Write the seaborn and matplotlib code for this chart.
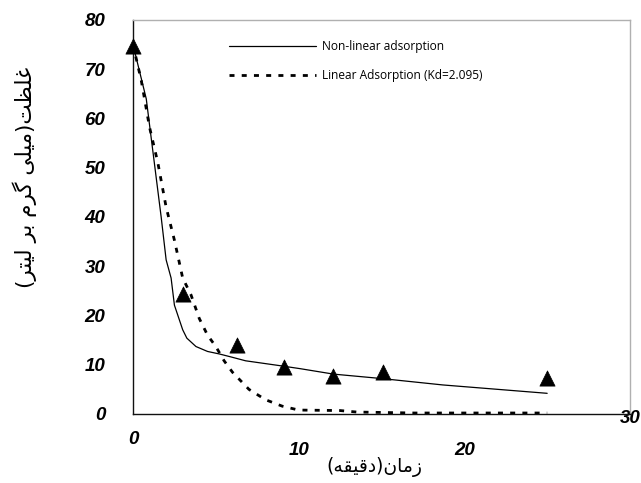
import matplotlib
matplotlib.use("Agg")
import matplotlib.pyplot as plt
import matplotlib.transforms as mtransforms
import seaborn as sns
import pandas as pd

# Measured concentrations (triangles)
obs_time = [0, 3.0, 6.3, 9.1, 12.1, 15.1, 25.0]
obs_conc = [74.8, 24.4, 14.1, 9.5, 7.7, 8.5, 7.3]

# Non-linear adsorption model
nl_time = [0, 0.8, 1.7, 2.0, 2.3, 2.5, 2.8, 3.0, 3.25, 3.8, 4.5, 5.2, 5.9, 6.8, 8.9, 10.1, 12.1, 15.0, 18.7, 25.0]
nl_conc = [75, 64, 40, 31.3, 27.6, 22.1, 19.1, 17.1, 15.4, 13.7, 12.7, 12.2, 11.6, 10.8, 9.8, 9.2, 8.1, 7.2, 5.9, 4.2]

# Linear adsorption model (Kd = 2.095)
lin_time = [0, 0.5, 1.0, 1.5, 2.0, 2.5, 3.0, 3.5, 4.0, 4.5, 5.0, 5.5, 6.0, 7.0, 8.0, 9.0, 10.0, 12.5, 13.5, 17.0, 25.0]
lin_conc = [75, 67.7, 58.2, 51.0, 42.0, 35.3, 27.6, 24.2, 19.4, 16.0, 13.7, 10.8, 8.5, 5.0, 2.9, 1.6, 0.8, 0.7, 0.4, 0.2, 0.2]

series_labels = ["Non-linear adsorption", "Linear Adsorption (Kd=2.095)"]
x_ticks = [0, 10, 20, 30]
y_ticks = [0, 10, 20, 30, 40, 50, 60, 70, 80]
x_title = "زمان(دقیقه)"
y_title = "غلظت(میلی گرم بر لیتر)"

# Contextual glyph forms: (isolated, final, initial, medial)
FORMS = {
    "غ": ("\uFECD", "\uFECE", "\uFECF", "\uFED0"),
    "ل": ("\uFEDD", "\uFEDE", "\uFEDF", "\uFEE0"),
    "ظ": ("\uFEC5", "\uFEC6", "\uFEC7", "\uFEC8"),
    "ت": ("\uFE95", "\uFE96", "\uFE97", "\uFE98"),
    "م": ("\uFEE1", "\uFEE2", "\uFEE3", "\uFEE4"),
    "ی": ("\uFBFC", "\uFBFD", "\uFBFE", "\uFBFF"),
    "گ": ("\uFB92", "\uFB93", "\uFB94", "\uFB95"),
    "ب": ("\uFE8F", "\uFE90", "\uFE91", "\uFE92"),
    "ن": ("\uFEE5", "\uFEE6", "\uFEE7", "\uFEE8"),
    "ق": ("\uFED5", "\uFED6", "\uFED7", "\uFED8"),
    "ه": ("\uFEE9", "\uFEEA", "\uFEEB", "\uFEEC"),
    "ر": ("\uFEAD", "\uFEAE", None, None),
    "ز": ("\uFEAF", "\uFEB0", None, None),
    "ا": ("\uFE8D", "\uFE8E", None, None),
    "د": ("\uFEA9", "\uFEAA", None, None),
}


def shape_rtl(text):
    """Join Persian letters and lay the string out right-to-left."""
    out = []
    for i, ch in enumerate(text):
        forms = FORMS.get(ch)
        if forms is None:
            out.append(ch)
            continue
        prev = text[i - 1] if i > 0 else None
        nxt = text[i + 1] if i + 1 < len(text) else None
        joins_prev = prev in FORMS and FORMS[prev][2] is not None
        joins_next = forms[2] is not None and nxt in FORMS
        iso, fin, ini, med = forms
        if joins_prev and joins_next:
            out.append(med)
        elif joins_prev:
            out.append(fin)
        elif joins_next:
            out.append(ini)
        else:
            out.append(iso)
    mirror = {"(": ")", ")": "("}
    return "".join(mirror.get(c, c) for c in reversed(out))


sns.set_style("white")
plt.rcParams["font.family"] = ["Liberation Sans", "DejaVu Sans"]
plt.rcParams["text.color"] = "black"
plt.rcParams["axes.labelcolor"] = "black"
plt.rcParams["xtick.color"] = "black"
plt.rcParams["ytick.color"] = "black"

fig = plt.figure(figsize=(6.41, 4.83), dpi=100)
ax = fig.add_axes([133 / 641, 1 - 414 / 483, 497 / 641, 394 / 483])

nl_df = pd.DataFrame({"t": nl_time, "c": nl_conc})
lin_df = pd.DataFrame({"t": lin_time, "c": lin_conc})
obs_df = pd.DataFrame({"t": obs_time, "c": obs_conc})

sns.lineplot(data=nl_df, x="t", y="c", ax=ax, color="black", lw=0.9,
             estimator=None, label=series_labels[0])
sns.lineplot(data=lin_df, x="t", y="c", ax=ax, color="black", lw=2.0,
             estimator=None, label=series_labels[1], dashes=False)
ax.lines[-1].set_dashes((1.8, 2.6))
sns.scatterplot(data=obs_df, x="t", y="c", ax=ax, marker="^", s=120,
                color="black", edgecolor="black", linewidth=0.5, zorder=5,
                clip_on=False, legend=False)

ax.set_xlim(0, 30)
ax.set_ylim(0, 80)
ax.set_xticks(x_ticks)
ax.set_yticks(y_ticks)

for side in ("left", "bottom"):
    ax.spines[side].set_color("#111111")
    ax.spines[side].set_linewidth(1.0)
for side in ("top", "right"):
    ax.spines[side].set_color("#b0b0b0")
    ax.spines[side].set_linewidth(1.0)

ax.tick_params(axis="both", direction="out", length=6, width=1, color="#111111",
               labelsize=13.5, labelcolor="black")
ax.tick_params(axis="x", pad=14)
ax.tick_params(axis="y", pad=14)
for lab in ax.get_xticklabels() + ax.get_yticklabels():
    lab.set_fontweight("bold")
    lab.set_fontstyle("italic")

# first and last x labels sit higher than the inner ones
x_offsets = [11, 0, 0, 32]
for lab, dy in zip(ax.get_xticklabels(), x_offsets):
    lab.set_transform(lab.get_transform() +
                      mtransforms.ScaledTranslation(0, dy / 100, fig.dpi_scale_trans))

ax.set_xlabel(shape_rtl(x_title), fontsize=13.5, family="DejaVu Sans", va="center",
              color="black")
ax.xaxis.set_label_coords(0.485, -0.135)
ax.set_ylabel(shape_rtl(y_title), fontsize=15.5, family="DejaVu Sans", va="center",
              color="black")
ax.yaxis.set_label_coords(-0.217, 0.60)

leg = ax.legend(loc="upper left", bbox_to_anchor=(229 / 641, 1 - 40 / 483),
                bbox_transform=fig.transFigure, frameon=False,
                prop={"family": "Open Sans", "size": 8.6},
                handlelength=7.3, handletextpad=0.5, labelspacing=1.35,
                borderpad=0, borderaxespad=0)

fig.savefig("out.png", dpi=100)
